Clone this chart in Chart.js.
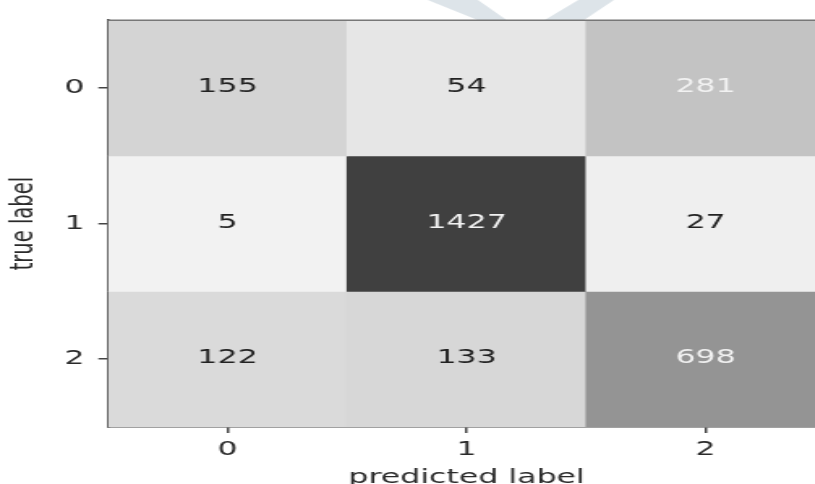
<!DOCTYPE html>
<html>
<head>
<meta charset="utf-8">
<script src="https://cdn.jsdelivr.net/npm/chart.js@4.4.1/dist/chart.umd.min.js"></script>
<style>
  html, body { margin: 0; padding: 0; background: #fff; overflow: hidden; width: 815px; height: 484px; }
  /* the plot is laid out narrow and widened horizontally */
  #wrap { position: absolute; left: 0; top: 0; width: 530px; height: 500px;
          transform: scaleX(1.62); transform-origin: 0 0; filter: blur(0.45px); }
</style>
</head>
<body>
<div id="wrap"><canvas id="cm" width="530" height="500"></canvas></div>
<script>
// Confusion matrix counts: rows = true label, columns = predicted label
const predictedLabels = ['0', '1', '2'];
const trueLabels = ['0', '1', '2'];
const row0 = [155, 54, 281];
const row1 = [5, 1427, 27];
const row2 = [122, 133, 698];
const counts = [row0, row1, row2];

// Gray level of each cell fill
const shade0 = [212, 230, 195];
const shade1 = [242, 64, 239];
const shade2 = [218, 215, 148];
const shades = [shade0, shade1, shade2];

const FONT = '"DejaVu Sans", sans-serif';
const FS = 19.5;
Chart.defaults.font.family = FONT;
Chart.defaults.color = '#2a2a2a';

// faint emblem behind the top of the figure
const emblem = {
  id: 'emblem',
  beforeDraw(chart) {
    const ctx = chart.ctx;
    ctx.save();
    ctx.fillStyle = '#dde4e9';
    ctx.beginPath();
    ctx.moveTo(264, 0); ctx.lineTo(295, 0); ctx.lineTo(318, 26); ctx.lineTo(304, 26);
    ctx.closePath(); ctx.fill();
    ctx.beginPath();
    ctx.moveTo(357, 0); ctx.lineTo(379, 0); ctx.lineTo(355, 26); ctx.lineTo(330, 26);
    ctx.closePath(); ctx.fill();
    ctx.restore();
  }
};

// count printed in the middle of each cell
const cellText = {
  id: 'cellText',
  afterDatasetsDraw(chart) {
    const ctx = chart.ctx;
    ctx.save();
    ctx.font = FS + 'px ' + FONT;
    ctx.textAlign = 'center';
    ctx.textBaseline = 'middle';
    chart.data.datasets.forEach((ds, r) => {
      const meta = chart.getDatasetMeta(r);
      const total = counts[r].reduce((a, b) => a + b, 0);
      meta.data.forEach((bar, c) => {
        const v = counts[r][c];
        const p = bar.getCenterPoint();
        ctx.fillStyle = v / total > 0.5 ? '#f2f2f2' : '#222';
        ctx.fillText(String(v), p.x, p.y - 1);
      });
    });
    ctx.restore();
  },
  afterDraw(chart) {
    // top frame line
    const a = chart.chartArea, ctx = chart.ctx;
    ctx.save();
    ctx.strokeStyle = '#777';
    ctx.lineWidth = 1.5;
    ctx.beginPath();
    ctx.moveTo(a.left, a.top);
    ctx.lineTo(a.right + 30, a.top);
    ctx.stroke();
    ctx.restore();
  }
};

new Chart(document.getElementById('cm'), {
  type: 'bar',
  data: {
    labels: predictedLabels,
    datasets: counts.map((row, r) => ({
      label: 'true ' + trueLabels[r],
      data: row.map(() => [r - 0.5, r + 0.5]),
      backgroundColor: shades[r].map(g => `rgb(${g},${g},${g})`),
      grouped: false,
      categoryPercentage: 1,
      barPercentage: 1,
      borderWidth: 0,
      borderSkipped: false
    }))
  },
  options: {
    responsive: false,
    devicePixelRatio: 1,
    animation: false,
    layout: { padding: { left: 0, top: 13.5, right: 20.7, bottom: 0 } },
    plugins: { legend: { display: false }, tooltip: { enabled: false } },
    scales: {
      x: {
        type: 'category',
        offset: true,
        grid: { offset: false, drawOnChartArea: false, drawTicks: true, tickLength: 6, color: '#444', lineWidth: 1.5 },
        border: { display: true, color: '#444', width: 1.5 },
        ticks: { font: { size: FS }, padding: 5, maxRotation: 0 },
        title: { display: true, text: 'predicted label', font: { size: FS }, padding: { top: 0, bottom: 10 } },
        afterFit(s) { s.height = 73; }
      },
      y: {
        type: 'linear',
        reverse: true,
        min: -0.5,
        max: 2.5,
        afterBuildTicks(s) { s.ticks = trueLabels.map((_, i) => ({ value: i })); },
        grid: { drawOnChartArea: false, drawTicks: true, tickLength: 6, color: '#444', lineWidth: 1.5 },
        border: { display: true, color: '#444', width: 1.5 },
        ticks: { font: { size: FS }, padding: 8.5, callback: v => trueLabels[v] },
        title: { display: true, text: 'true label', font: { size: FS }, padding: { top: 3, bottom: 0 } },
        afterFit(s) { s.width = 66.7; }
      }
    }
  },
  plugins: [emblem, cellText]
});
</script>
</body>
</html>
